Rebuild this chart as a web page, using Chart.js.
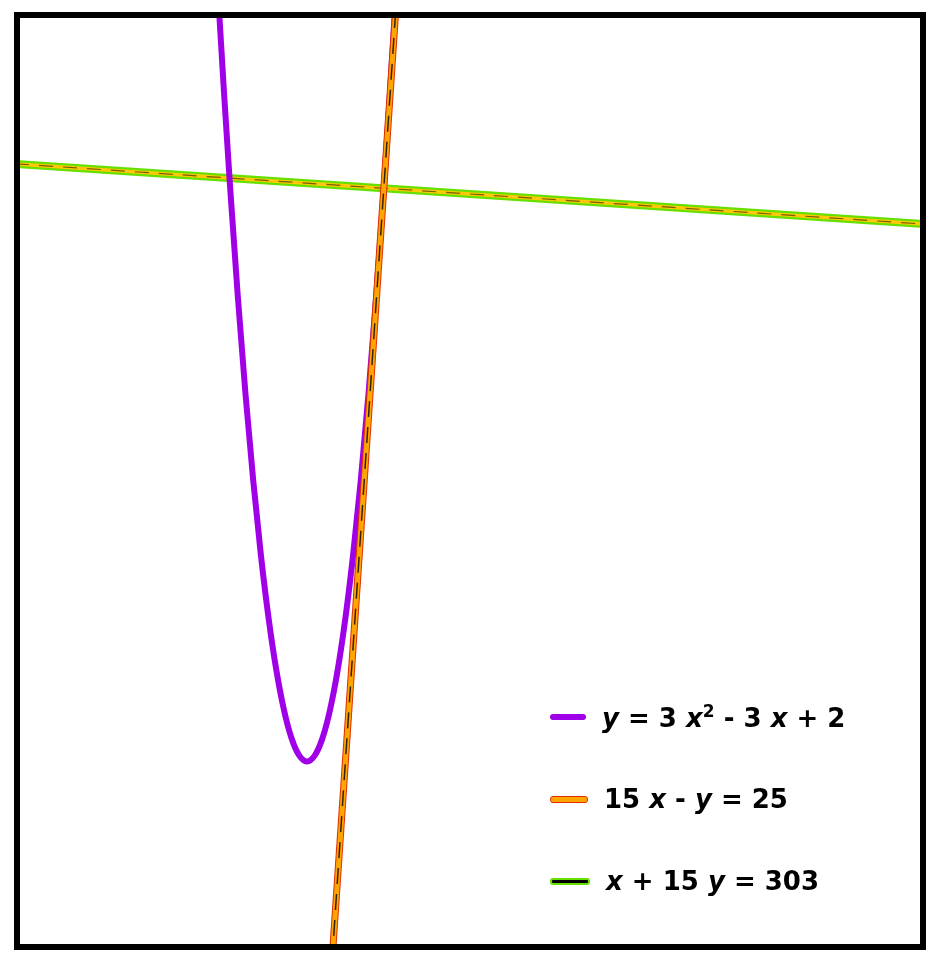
<!DOCTYPE html>
<html>
<head>
<meta charset="utf-8">
<script src="https://cdn.jsdelivr.net/npm/chart.js@4.4.1/dist/chart.umd.min.js"></script>
<style>
  body { margin: 0; background: #fff; font-family: "DejaVu Sans", sans-serif; }
  #frame { position: absolute; left: 14px; top: 12px; width: 900px; height: 926px; border: 6px solid #000; overflow: hidden; }
  #legend { position: absolute; left: 550px; top: 676px; font-size: 26px; color: #000; font-weight: bold; }
  .row { display: flex; align-items: center; height: 82px; }
  .sw { width: 36px; height: 6px; border-radius: 3px; margin-right: 16px; position: relative; }
  .row i { font-style: italic; }
</style>
</head>
<body>
<div id="frame"><canvas id="c"></canvas></div>
<div id="legend">
  <div class="row"><div class="sw" style="background:#a000e8"></div><span><i>y</i> = 3 <i>x</i><sup style="font-size:17px">2</sup> - 3 <i>x</i> + 2</span></div>
  <div class="row"><div class="sw" style="background:#ffa500;border:1.5px solid #e03000;height:5px"></div><span>15 <i>x</i> - <i>y</i> = 25</span></div>
  <div class="row"><div class="sw" style="background:#000;border:2px solid #66e000;height:3px"></div><span><i>x</i> + 15 <i>y</i> = 303</span></div>
</div>
<script>
// parabola points
const parabolaX = [-2.35, -2.2, -2, -1.75, -1.5, -1.25, -1, -0.75, -0.5, -0.25, 0, 0.25, 0.5, 0.75, 1, 1.25, 1.5, 1.75, 2, 2.25, 2.5, 2.75, 3, 3.2, 3.35];
const parabolaY = [25.62, 23.12, 20, 16.44, 13.25, 10.44, 8, 5.94, 4.25, 2.94, 2, 1.44, 1.25, 1.44, 2, 2.94, 4.25, 5.94, 8, 10.44, 13.25, 16.44, 20, 23.12, 25.62];
// straight lines, end points
const tangentX = [1.2, 3.4];
const tangentY = [-7, 26];
const normalX = [-9, 21];
const normalY = [20.8, 18.8];

const pts = (xs, ys) => xs.map((x, i) => ({ x: x, y: ys[i] }));

const canvas = document.getElementById('c');
canvas.width = 900; canvas.height = 926;

// higher order is drawn first (underneath)
new Chart(canvas, {
  type: 'line',
  data: {
    datasets: [
      { data: pts(normalX, normalY), borderColor: '#66e000', borderWidth: 8, order: 7 },
      { data: pts(normalX, normalY), borderColor: '#ffc800', borderWidth: 3.5, order: 6 },
      { data: pts(normalX, normalY), borderColor: 'rgba(70,60,0,0.75)', borderWidth: 1.2, borderDash: [14, 10], order: 5 },
      { data: pts(parabolaX, parabolaY), borderColor: '#a000e8', borderWidth: 6, cubicInterpolationMode: 'monotone', order: 4 },
      { data: pts(tangentX, tangentY), borderColor: '#e03000', borderWidth: 7, order: 3 },
      { data: pts(tangentX, tangentY), borderColor: '#ffa500', borderWidth: 5, order: 2 },
      { data: pts(tangentX, tangentY), borderColor: 'rgba(0,0,0,0.8)', borderWidth: 1.5, borderDash: [16, 10], order: 1 }
    ]
  },
  options: {
    responsive: false,
    animation: false,
    parsing: false,
    elements: { point: { radius: 0 } },
    layout: { padding: 0 },
    plugins: { legend: { display: false }, tooltip: { enabled: false } },
    scales: {
      x: { type: 'linear', min: -8.84, max: 20.45, display: false },
      y: { type: 'linear', min: -4.72, max: 25.57, display: false }
    }
  }
});
</script>
</body>
</html>
